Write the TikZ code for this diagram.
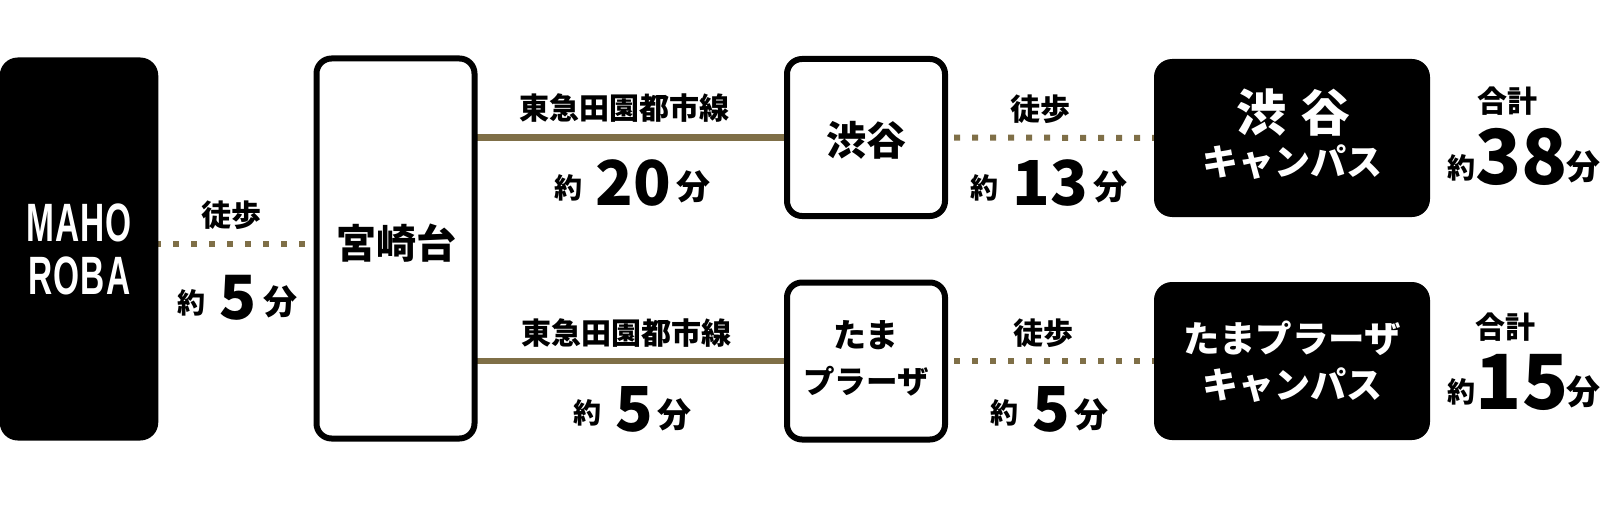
\documentclass[tikz,border=0pt]{standalone}
\usepackage{fontspec}
\usetikzlibrary{backgrounds}
\setmainfont{Noto Sans CJK JP}
\newfontfamily\logofont[LetterSpace=3]{Liberation Sans}
\definecolor{brownl}{HTML}{7F6F47}
\begin{document}
\begin{tikzpicture}[x=1pt,y=-1pt,
 wbox/.style={draw=black,line width=6pt,fill=white,rounded corners=15pt,inner sep=0pt,outer sep=0pt},
 bbox/.style={fill=black,rounded corners=18pt,inner sep=0pt,outer sep=0pt},
 solidl/.style={draw=brownl,line width=6pt},
 dotl/.style={draw=brownl,line width=6pt,dash pattern=on 6pt off 12pt},
 t/.style={inner sep=0pt,outer sep=0pt,text=black,font=\bfseries\fontsize{#1}{#1}\selectfont},
 w/.style={inner sep=0pt,outer sep=0pt,text=white,font=\bfseries\fontsize{#1}{#1}\selectfont},
 lg/.style={inner sep=0pt,text=white,font=\logofont\bfseries\fontsize{54}{54}\selectfont,xscale=.62}]
\useasboundingbox (0,0) rectangle (1600,516);
\node[bbox,minimum width=158.5pt,minimum height=383pt] (mh) at (79,249) {};
\node[wbox,minimum width=158pt,minimum height=380pt] (miya) at (395.5,248.5) {};
\node[wbox,minimum width=158pt,minimum height=157pt] (sb) at (866,137.5) {};
\node[wbox,minimum width=158pt,minimum height=157pt] (tm) at (866,361) {};
\node[bbox,minimum width=276pt,minimum height=158pt] (cs) at (1292,138) {};
\node[bbox,minimum width=276pt,minimum height=158pt] (ct) at (1292,361) {};
\begin{pgfonlayer}{background}
\draw[dotl] ([xshift=-3pt]mh.east |- 0,244) -- ([xshift=-8pt]miya.west |- 0,244);
\draw[dotl] ([xshift=9pt]sb.east) -- ([xshift=3pt]cs.west);
\draw[dotl] ([xshift=9pt]tm.east) -- ([xshift=3pt]ct.west);
\draw[solidl] (miya.east |- sb) -- (sb);
\draw[solidl] (miya.east |- tm) -- (tm);
\end{pgfonlayer}
% box labels
\node[t=40] (m1) at (396,243.5) {宮崎台};
\node[t=40] (s1) at (866,140) {渋谷};
\node[t=33] (t1) at (866,335) {たま};
\node[t=31.5] (t2) at (866,381) {プラーザ};
% logo
\node[lg] (l1) at (79,223) {MAHO};
\node[lg] (l2) at (79.5,276) {ROBA};
% left walk
\node[t=30] (a1) at (231,215) {徒歩};
\node[t=28] (a2) at (191.7,303) {約};
\node[t=61] (a3) at (238.5,298) {5};
\node[t=34] (a4) at (280,302) {分};
% top line
\node[t=30] (b1) at (624,108) {東急田園都市線};
\node[t=28] (b2) at (568,188) {約};
\node[t=62] (b3) at (633,183) {20};
\node[t=34] (b4) at (693.7,187) {分};
% top walk
\node[t=30] (c1) at (1040,109.5) {徒歩};
\node[t=28] (c2) at (984,188) {約};
\node[t=62] (c3) at (1050,183) {13};
\node[t=34] (c4) at (1110,187) {分};
% top campus
\node[w=50] (d1) at (1261,113) {渋};
\node[w=50] (d2) at (1325,113) {谷};
\node[w=36] (d3) at (1292,162) {キャンパス};
% top total
\node[t=30] (e1) at (1507,101) {合計};
\node[t=28] (e2) at (1461,168) {約};
\node[t=76] (e3) at (1521.5,157) {38};
\node[t=34] (e4) at (1583,167) {分};
% lower line
\node[t=30] (f1) at (626,333) {東急田園都市線};
\node[t=28] (f2) at (587,413) {約};
\node[t=62] (f3) at (634,409) {5};
\node[t=34] (f4) at (674.5,415) {分};
% lower walk
\node[t=30] (g1) at (1043,333) {徒歩};
\node[t=28] (g2) at (1004,413) {約};
\node[t=62] (g3) at (1051.5,409) {5};
\node[t=34] (g4) at (1091,415) {分};
% lower campus
\node[w=36.5] (h1) at (1292.5,338) {たまプラーザ};
\node[w=36] (h2) at (1292,385) {キャンパス};
% lower total
\node[t=30] (i1) at (1505,327) {合計};
\node[t=28] (i2) at (1461,392) {約};
\node[t=76] (i3) at (1522,382) {15};
\node[t=34] (i4) at (1583,392) {分};
\end{tikzpicture}
\end{document}
